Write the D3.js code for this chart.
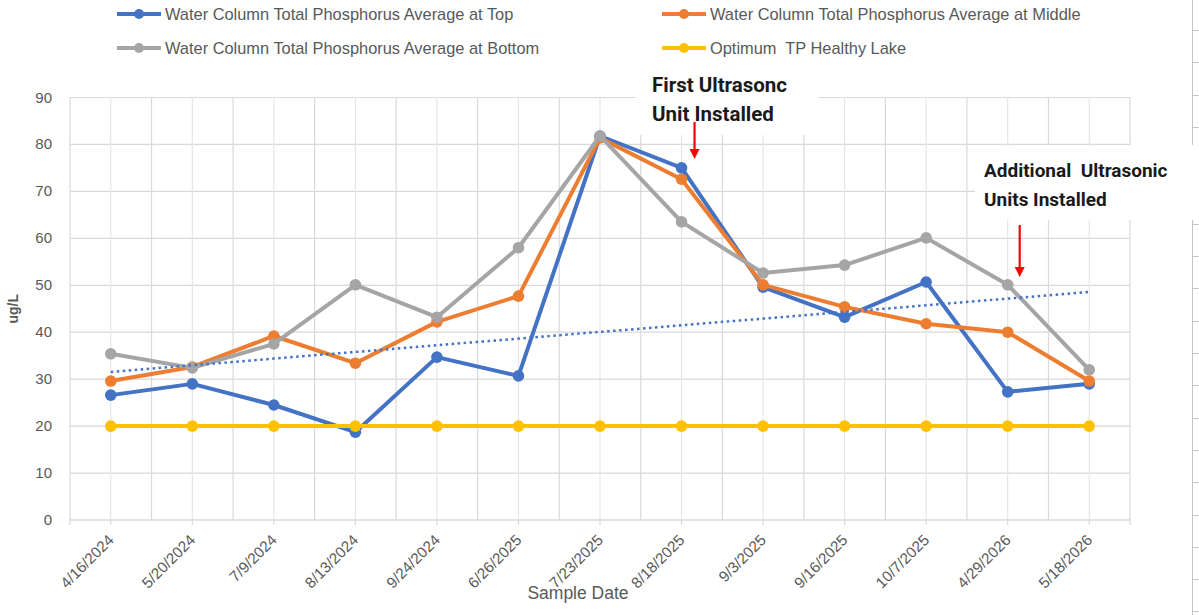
<!DOCTYPE html>
<html>
<head>
<meta charset="utf-8">
<script src="https://cdn.jsdelivr.net/npm/d3@7"></script>
<style>
  body { margin: 0; background: #fff; }
  svg { display: block; }
  text { white-space: pre; }
</style>
</head>
<body>
<div id="chart"></div>
<script>
// sample dates on the x axis
const sampleDates = ["4/16/2024", "5/20/2024", "7/9/2024", "8/13/2024", "9/24/2024", "6/26/2025",
  "7/23/2025", "8/18/2025", "9/3/2025", "9/16/2025", "10/7/2025", "4/29/2026", "5/18/2026"];

// ug/L values
const tpTop = [26.6, 29.0, 24.5, 18.7, 34.7, 30.7, 81.8, 75.0, 49.6, 43.2, 50.7, 27.3, 29.0];
const tpMiddle = [29.6, 32.6, 39.2, 33.4, 42.2, 47.7, 81.4, 72.6, 50.1, 45.4, 41.8, 40.0, 29.6];
const tpBottom = [35.4, 32.4, 37.5, 50.1, 43.2, 58.0, 81.8, 63.5, 52.6, 54.3, 60.1, 50.1, 32.0];
const tpOptimum = [20, 20, 20, 20, 20, 20, 20, 20, 20, 20, 20, 20, 20];

const yTicks = [0, 10, 20, 30, 40, 50, 60, 70, 80, 90];

const seriesNames = ["Water Column Total Phosphorus Average at Top",
  "Water Column Total Phosphorus Average at Middle",
  "Water Column Total Phosphorus Average at Bottom",
  "Optimum  TP Healthy Lake"];

const annotations = [
  { lines: ["First Ultrasonc", "Unit Installed"], at: "8/18/2025" },
  { lines: ["Additional  Ultrasonic", "Units Installed"], at: "4/29/2026" }
];

const width = 1199, height = 615;
const margin = { left: 70, right: 69, top: 97.5, bottom: 95 };
const textGray = "#595959";
const font = "'Liberation Sans', Arial, sans-serif";

const svg = d3.select("#chart").append("svg")
  .attr("width", width)
  .attr("height", height)
  .attr("font-family", font);

const x = d3.scaleBand()
  .domain(sampleDates)
  .range([margin.left, width - margin.right]);

const y = d3.scaleLinear()
  .domain([0, 90])
  .range([height - margin.bottom, margin.top]);

const cx = d => x(d) + x.bandwidth() / 2;

// excel cells peeking in on the right
const cellG = svg.append("g").attr("stroke", "#c4c4c4").attr("stroke-width", 1);
cellG.append("line").attr("x1", 1192.5).attr("x2", 1192.5).attr("y1", 0).attr("y2", height);
d3.range(30, height, 32.3).forEach(v => {
  cellG.append("line").attr("x1", 1192).attr("x2", width)
    .attr("y1", Math.round(v) + 0.5).attr("y2", Math.round(v) + 0.5);
});

// gridlines
const grid = svg.append("g");
grid.selectAll(".hgrid")
  .data(yTicks)
  .join("line")
  .attr("x1", margin.left).attr("x2", width - margin.right)
  .attr("y1", d => y(d)).attr("y2", d => y(d))
  .attr("stroke", "#d9d9d9").attr("stroke-width", 1.2);

const bounds = sampleDates.map(d => x(d)).concat([width - margin.right]);
grid.selectAll(".vgrid")
  .data(bounds)
  .join("line")
  .attr("x1", d => d).attr("x2", d => d)
  .attr("y1", y(90)).attr("y2", y(0))
  .attr("stroke", "#d9d9d9").attr("stroke-width", 1.2);

grid.selectAll(".vminor")
  .data(sampleDates)
  .join("line")
  .attr("x1", d => cx(d)).attr("x2", d => cx(d))
  .attr("y1", y(90)).attr("y2", y(0))
  .attr("stroke", "#e6e6e6").attr("stroke-width", 1.2);

// x axis line and ticks
svg.append("line")
  .attr("x1", margin.left).attr("x2", width - margin.right)
  .attr("y1", y(0)).attr("y2", y(0))
  .attr("stroke", "#d9d9d9").attr("stroke-width", 1.2);

svg.selectAll(".xtick")
  .data(sampleDates.map(cx).concat([margin.left, width - margin.right]))
  .join("line")
  .attr("x1", d => d).attr("x2", d => d)
  .attr("y1", y(0)).attr("y2", y(0) + 5)
  .attr("stroke", "#d9d9d9").attr("stroke-width", 1.2);

// y labels
svg.selectAll(".ylab")
  .data(yTicks)
  .join("text")
  .attr("x", 52)
  .attr("y", d => y(d) + 5)
  .attr("text-anchor", "end")
  .attr("font-size", 15)
  .attr("fill", textGray)
  .text(d => d);

// x axis title (sits under the rotated labels)
svg.append("text")
  .attr("x", 578).attr("y", 599)
  .attr("text-anchor", "middle")
  .attr("font-size", 17.5)
  .attr("fill", textGray)
  .text("Sample Date");

// x labels
svg.selectAll(".xlab")
  .data(sampleDates)
  .join("text")
  .attr("text-anchor", "end")
  .attr("transform", d => `translate(${cx(d) + 4},${y(0) + 21}) rotate(-45)`)
  .attr("font-size", 15.3)
  .attr("fill", textGray)
  .text(d => d);

// y title
svg.append("text")
  .attr("transform", `translate(18,${y(45)}) rotate(-90)`)
  .attr("text-anchor", "middle")
  .attr("font-size", 14)
  .attr("font-weight", "bold")
  .attr("fill", textGray)
  .text("ug/L");

// series
const series = [
  { name: seriesNames[0], values: tpTop, color: "#4472C4" },
  { name: seriesNames[1], values: tpMiddle, color: "#ED7D31" },
  { name: seriesNames[2], values: tpBottom, color: "#A5A5A5" },
  { name: seriesNames[3], values: tpOptimum, color: "#FFC000" }
];

const line = d3.line()
  .x((d, i) => cx(sampleDates[i]))
  .y(d => y(d));

series.forEach(s => {
  const g = svg.append("g");
  g.append("path")
    .attr("d", line(s.values))
    .attr("fill", "none")
    .attr("stroke", s.color)
    .attr("stroke-width", 4)
    .attr("stroke-linejoin", "round");
  g.selectAll("circle")
    .data(s.values)
    .join("circle")
    .attr("cx", (d, i) => cx(sampleDates[i]))
    .attr("cy", d => y(d))
    .attr("r", 5.8)
    .attr("fill", s.color);
});

// linear trend of the top series
const idx = tpTop.map((d, i) => i);
const mx = d3.mean(idx), my = d3.mean(tpTop);
const slope = d3.sum(idx, i => (i - mx) * (tpTop[i] - my)) / d3.sum(idx, i => (i - mx) * (i - mx));
const trend = idx.map(i => my + slope * (i - mx));
svg.append("path")
  .attr("d", line(trend))
  .attr("fill", "none")
  .attr("stroke", "#4472C4")
  .attr("stroke-width", 2.5)
  .attr("stroke-dasharray", "2.5,3.5");

// legend
const legendPos = [[117, 14], [662, 14], [117, 48], [662, 48]];
series.forEach((s, i) => {
  const [lx, ly] = legendPos[i];
  const g = svg.append("g").attr("transform", `translate(${lx},${ly})`);
  g.append("line").attr("x1", 0).attr("x2", 44).attr("y1", 0).attr("y2", 0)
    .attr("stroke", s.color).attr("stroke-width", 4);
  g.append("circle").attr("cx", 22).attr("cy", 0).attr("r", 5).attr("fill", s.color);
  g.append("text").attr("x", 48).attr("y", 5.5)
    .attr("font-size", 16.4)
    .attr("fill", textGray)
    .text(s.name);
});

// annotation boxes + arrows
const boxes = [
  { x0: 636, y0: 64, w: 182, h: 71, tx: 652, ty: 92, size: 20.5, arrowTop: 122, arrowTip: 159 },
  { x0: 975, y0: 145, w: 224, h: 75, tx: 984, ty: 177, size: 19, arrowTop: 225, arrowTip: 277 }
];
annotations.forEach((a, i) => {
  const b = boxes[i];
  svg.append("rect")
    .attr("x", b.x0).attr("y", b.y0).attr("width", b.w).attr("height", b.h)
    .attr("fill", "#fff");
  a.lines.forEach((t, j) => {
    svg.append("text")
      .attr("x", b.tx).attr("y", b.ty + j * 29)
      .attr("font-family", "Roboto, sans-serif")
      .attr("font-size", b.size)
      .attr("font-weight", "bold")
      .attr("fill", "#1a1a1a")
      .text(t);
  });
  const ax = cx(a.at) + (i === 0 ? 13 : 12);
  svg.append("line")
    .attr("x1", ax).attr("x2", ax)
    .attr("y1", b.arrowTop).attr("y2", b.arrowTip - 8)
    .attr("stroke", "#ff0000").attr("stroke-width", 2.2);
  svg.append("path")
    .attr("d", `M${ax - 5},${b.arrowTip - 10} L${ax + 5},${b.arrowTip - 10} L${ax},${b.arrowTip} Z`)
    .attr("fill", "#ff0000");
});
</script>
</body>
</html>
